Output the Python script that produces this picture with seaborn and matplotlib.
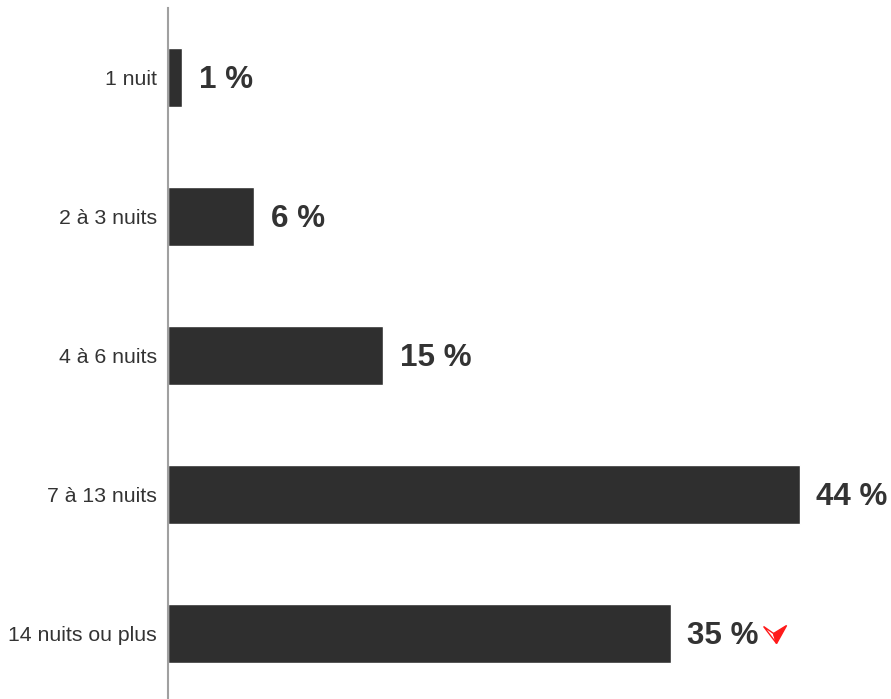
import matplotlib
matplotlib.use("Agg")
import matplotlib.pyplot as plt
import matplotlib.transforms as mtransforms
from matplotlib.patches import Polygon
import seaborn as sns
import pandas as pd

categories = ["1 nuit", "2 à 3 nuits", "4 à 6 nuits", "7 à 13 nuits", "14 nuits ou plus"]
values = [1, 6, 15, 44, 35]
value_labels = ["1 %", "6 %", "15 %", "44 %", "35 %"]
down_flag = [False, False, False, False, True]

sns.set_theme(style="white")
plt.rcParams["font.family"] = ["Liberation Sans", "DejaVu Sans"]

df = pd.DataFrame({"categorie": categories, "part": values})

fig = plt.figure(figsize=(8.91, 6.99), dpi=100)
ax = fig.add_axes([168 / 891, -4 / 699, 1 - 168 / 891, 695 / 699])

sns.barplot(data=df, x="part", y="categorie", orient="h", color="#2f2f2f",
            saturation=1, width=0.42, ax=ax)

ax.set_xlim(0, 50.35)
ax.set_ylim(4.5, -0.5)
ax.set_xlabel("")
ax.set_ylabel("")
ax.set_xticks([])
ax.tick_params(axis="y", length=0, pad=8, labelsize=15.3, labelcolor="#333333")
for side in ["top", "right", "bottom"]:
    ax.spines[side].set_visible(False)
ax.spines["left"].set_color("#a0a0a0")
ax.spines["left"].set_linewidth(1.5)

for i, (v, lab) in enumerate(zip(values, value_labels)):
    ax.annotate(lab, xy=(v, i), xytext=(12, -2), textcoords="offset points",
                ha="left", va="center", fontsize=22.6, fontweight="bold",
                color="#333333")
    if down_flag[i]:
        base = mtransforms.Affine2D().scale(fig.dpi / 100) + \
            mtransforms.ScaledTranslation(v, i, ax.transData)
        left_half = [(93, 7), (103, 0), (106, -10)]
        right_half = [(116, 8), (103, 0), (106, -10)]
        ax.add_patch(Polygon(left_half, closed=True, facecolor="white",
                             edgecolor="#ff1a1a", linewidth=1.0,
                             transform=base, clip_on=False))
        ax.add_patch(Polygon(right_half, closed=True, facecolor="#ff1a1a",
                             edgecolor="#ff1a1a", linewidth=1.0,
                             transform=base, clip_on=False))

fig.savefig("out.png", dpi=100)
